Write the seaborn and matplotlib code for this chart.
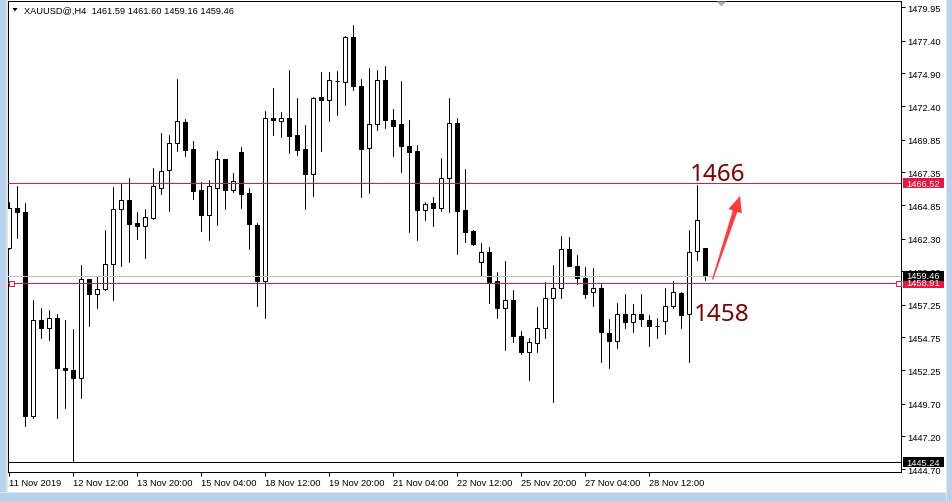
import numpy as np
import pandas as pd
import matplotlib
matplotlib.use("Agg")
import matplotlib.pyplot as plt
import matplotlib.transforms as mtransforms
from matplotlib.patches import Rectangle, Polygon
import seaborn as sns

# XAUUSD H4 bars, oldest first
opens = [1461.55, 1464.61, 1464.30, 1448.78, 1456.06, 1455.45, 1456.26, 1452.39, 1452.29, 1451.63,
         1459.21, 1458.09, 1458.45, 1460.33, 1464.56, 1465.22, 1463.49, 1463.28, 1463.89, 1466.18,
         1467.51, 1469.59, 1471.17, 1469.14, 1465.98, 1464.10, 1466.18, 1468.37, 1466.03, 1468.93,
         1465.78, 1463.33, 1459.06, 1471.48, 1471.27, 1471.53, 1470.21, 1469.14, 1467.25, 1473.11,
         1472.90, 1474.33, 1474.28, 1477.69, 1473.97, 1469.24, 1471.02, 1474.38, 1471.38, 1471.02,
         1469.34, 1468.98, 1464.45, 1465.01, 1464.66, 1466.90, 1471.12, 1464.45, 1462.88, 1460.48,
         1461.25, 1459.06, 1456.97, 1457.58, 1454.84, 1453.62, 1454.33, 1455.45, 1457.79, 1458.50,
         1461.50, 1460.23, 1459.31, 1458.19, 1458.50, 1455.09, 1454.48, 1456.57, 1455.90, 1456.57,
         1456.06, 1455.62, 1456.01, 1457.13, 1458.14, 1456.52, 1461.35, 1461.59]
highs = [1465.12, 1466.29, 1465.01, 1457.58, 1456.97, 1456.82, 1456.57, 1456.06, 1455.40, 1460.28,
         1459.24, 1459.42, 1462.98, 1466.24, 1466.49, 1466.90, 1464.35, 1464.56, 1467.71, 1470.36,
         1470.21, 1474.48, 1471.43, 1469.75, 1466.59, 1466.80, 1468.98, 1468.40, 1467.30, 1469.29,
         1466.18, 1463.49, 1472.04, 1473.77, 1471.94, 1475.14, 1473.00, 1470.97, 1473.11, 1475.04,
         1475.04, 1475.09, 1477.79, 1478.60, 1474.48, 1475.35, 1475.19, 1475.50, 1472.19, 1474.33,
         1471.38, 1469.44, 1465.12, 1465.47, 1468.42, 1473.06, 1471.48, 1467.61, 1462.98, 1461.96,
         1461.66, 1459.72, 1460.59, 1458.35, 1455.24, 1454.68, 1457.07, 1458.96, 1460.28, 1462.47,
         1462.42, 1461.04, 1460.13, 1460.08, 1458.86, 1456.16, 1457.38, 1458.04, 1457.28, 1458.04,
         1456.47, 1456.21, 1458.50, 1459.06, 1458.25, 1462.98, 1466.39, 1461.60]
lows = [1461.50, 1462.37, 1447.97, 1448.63, 1454.68, 1454.53, 1448.63, 1449.34, 1445.32, 1450.10,
        1455.60, 1457.02, 1458.40, 1457.58, 1460.18, 1460.54, 1462.27, 1460.84, 1463.79, 1465.73,
        1464.40, 1468.98, 1468.58, 1465.32, 1462.88, 1462.22, 1463.33, 1464.56, 1465.88, 1464.66,
        1461.50, 1457.18, 1456.21, 1470.21, 1470.05, 1468.83, 1468.68, 1464.56, 1465.57, 1468.98,
        1471.27, 1471.73, 1472.50, 1473.67, 1465.47, 1465.78, 1470.61, 1470.76, 1468.63, 1467.41,
        1462.83, 1462.17, 1463.74, 1463.28, 1464.40, 1464.35, 1461.15, 1462.01, 1461.81, 1459.42,
        1457.38, 1456.26, 1453.82, 1454.43, 1453.46, 1451.48, 1453.67, 1454.73, 1449.80, 1457.74,
        1460.18, 1458.80, 1457.74, 1457.18, 1452.90, 1452.39, 1453.97, 1455.45, 1455.19, 1455.65,
        1454.07, 1454.68, 1454.99, 1457.02, 1455.50, 1452.85, 1460.64, 1459.16]
closes = [1464.61, 1464.30, 1448.73, 1456.06, 1455.45, 1456.26, 1452.39, 1452.29, 1451.63, 1459.21,
          1458.09, 1458.45, 1460.33, 1464.56, 1465.22, 1463.44, 1463.28, 1463.95, 1466.29, 1467.46,
          1469.59, 1471.27, 1469.09, 1465.93, 1464.10, 1466.29, 1468.37, 1466.03, 1466.69, 1465.73,
          1463.39, 1459.06, 1471.53, 1471.33, 1471.53, 1470.15, 1469.09, 1467.25, 1473.06, 1472.90,
          1474.38, 1474.30, 1477.69, 1473.97, 1469.14, 1471.02, 1474.38, 1471.38, 1470.92, 1469.34,
          1468.88, 1464.45, 1464.91, 1464.66, 1466.90, 1471.12, 1464.40, 1462.78, 1461.91, 1461.25,
          1459.01, 1456.97, 1457.58, 1454.84, 1453.62, 1454.38, 1455.45, 1457.74, 1458.50, 1461.50,
          1460.23, 1459.31, 1458.09, 1458.50, 1455.14, 1454.48, 1456.57, 1455.90, 1456.57, 1456.16,
          1455.60, 1455.62, 1457.13, 1458.19, 1456.47, 1461.30, 1463.69, 1459.46]

time_labels = ["11 Nov 2019", "12 Nov 12:00", "13 Nov 20:00", "15 Nov 04:00", "18 Nov 12:00",
               "19 Nov 20:00", "21 Nov 04:00", "22 Nov 12:00", "25 Nov 20:00", "27 Nov 04:00",
               "28 Nov 12:00"]
bars_per_label = 8
price_ticks = [1479.95, 1477.40, 1474.90, 1472.40, 1469.85, 1467.35, 1464.85, 1462.30,
               1459.80, 1457.25, 1454.75, 1452.25, 1449.70, 1447.20, 1444.70]

# horizontal lines on the chart
level_up = 1466.52
level_down = 1458.91
bid_price = 1459.46
floor_price = 1445.24

# hand-drawn annotations
note_up, note_down = "1466", "1458"
arrow_tail = (87.9, 1459.16)
arrow_tip = (91.35, 1465.55)

W, H = 952, 502
RED = "#E8173F"
NOTE = "#800000"
LW = 0.72  # one pixel at 100 dpi

sns.set_style("ticks", {"axes.edgecolor": "black", "xtick.color": "black",
                        "ytick.color": "black", "text.color": "black"})
plt.rcParams["font.family"] = ["Liberation Sans", "DejaVu Sans"]

df = pd.DataFrame({"open": opens, "high": highs, "low": lows, "close": closes})
df["bar"] = np.arange(len(df))
up = df["close"] >= df["open"]

fig = plt.figure(figsize=(W / 100, H / 100), dpi=100)
ax = fig.add_axes([8 / W, 1 - 473 / H, (901 - 8) / W, (473 - 2) / H])
pix = mtransforms.Affine2D().scale(1 / W, -1 / H).translate(0, 1) + fig.transFigure

ax.set_xlim(-0.16, 111.46)
ax.set_ylim(1444.48, 1480.43)

# wicks: one little line per bar
wicks = pd.concat([df[["bar", "low"]].rename(columns={"low": "price"}),
                   df[["bar", "high"]].rename(columns={"high": "price"})])
sns.lineplot(data=wicks, x="bar", y="price", units="bar", estimator=None,
             color="black", lw=LW, legend=False, ax=ax, zorder=2)

# bodies
ax.bar(df["bar"][up], (df["close"] - df["open"])[up], bottom=df["open"][up], width=0.5,
       color="white", edgecolor="black", linewidth=LW, zorder=3)
ax.bar(df["bar"][~up], (df["open"] - df["close"])[~up], bottom=df["close"][~up], width=0.5,
       color="black", edgecolor="black", linewidth=LW, zorder=3)

hl = dict(lw=LW, zorder=4, antialiased=False)
ax.axhline(bid_price, color="#C0C0C0", **hl)
ax.axhline(level_up, color=RED, **hl)
ax.axhline(level_down, color=RED, **hl)
ax.axhline(floor_price, color="black", **hl)
yblend = mtransforms.blended_transform_factory(ax.transAxes, ax.transData)
ax.plot([0.0037, 0.997], [level_down, level_down], ls="none", marker="s", ms=3.6,
        mfc="white", mec=RED, mew=LW, transform=yblend, zorder=5, clip_on=False)

ax.set_xlabel("")
ax.set_ylabel("")
ax.set_xlim(-0.16, 111.46)
ax.set_ylim(1444.48, 1480.43)

ax.yaxis.tick_right()
ax.set_yticks(price_ticks, [f"{v:.2f}" for v in price_ticks])
ax.set_xticks(np.arange(len(time_labels)) * bars_per_label, time_labels)
for lbl in ax.get_xticklabels():
    lbl.set_horizontalalignment("left")
ax.tick_params(axis="y", length=3, width=LW, pad=1.5, labelsize=6.7)
ax.tick_params(axis="x", length=3, width=LW, pad=1, labelsize=6.7)
for s in ax.spines.values():
    s.set_visible(True)
    s.set_linewidth(LW)
    s.set_color("black")

# price boxes on the right scale
xpix = mtransforms.blended_transform_factory(
    mtransforms.Affine2D().scale(1 / W, 1) + fig.transFigure, ax.transData)
for price, col in [(level_up, RED), (level_down, RED), (bid_price, "black"), (floor_price, "black")]:
    ax.add_patch(Rectangle((902.5, price - 0.38), 41.5, 0.76, transform=xpix,
                           facecolor=col, edgecolor="none", zorder=6, clip_on=False))
    ax.text(906, price, f"{price:.2f}", transform=xpix, color="white", fontsize=6.7,
            va="center", ha="left", zorder=7, clip_on=False)

# annotations
ax.text(85.1, 1466.77, note_up, color=NOTE, fontsize=17.5, family=["Noto Sans", "DejaVu Sans"],
        va="baseline", ha="left", zorder=6)
ax.text(85.6, 1456.08, note_down, color=NOTE, fontsize=17.5, family=["Noto Sans", "DejaVu Sans"],
        va="baseline", ha="left", zorder=6)
tail = ax.transData.transform(arrow_tail)
tip = ax.transData.transform(arrow_tip)
d = (tip - tail) / np.linalg.norm(tip - tail)
n = np.array([-d[1], d[0]])
base = tip - d * 16
pts = [tail - n * 0.6, base - n * 2.4, base - n * 7, tip, base + n * 7, base + n * 2.4, tail + n * 0.6]
ax.add_patch(Polygon(ax.transData.inverted().transform(pts), closed=True,
                     facecolor="#FF3B3B", edgecolor="none", zorder=6))

# header text and window chrome
fig.text(24, 11, f"XAUUSD@,H4  {opens[-1]:.2f} {highs[-1]:.2f} {lows[-1]:.2f} {closes[-1]:.2f}",
         transform=pix, fontsize=6.7, va="center", ha="left")
fig.patches.append(Polygon([(12.5, 9), (17.5, 9), (15, 12.5)], closed=True, transform=pix,
                           facecolor="black", edgecolor="none"))
fig.patches.append(Polygon([(716.5, 2.5), (726.5, 2.5), (721.5, 7.5)], closed=True, transform=pix,
                           facecolor="#B0B0B0", edgecolor="none"))
for x0, y0, w, h, c in [(0, 0, 6, H, "#B9D1EA"), (6, 0, 1.5, H, "#DCE6F1"),
                        (0, 494, W, 8, "#B9D1EA"), (0, 492.5, W, 1.5, "#DCE6F1"),
                        (947, 0, 5, H, "#B9D1EA"), (945.5, 0, 1.5, H, "#DCE6F1")]:
    fig.patches.append(Rectangle((x0, y0), w, h, transform=pix, facecolor=c, edgecolor="none"))

fig.savefig("out.png", dpi=100, facecolor="white")
